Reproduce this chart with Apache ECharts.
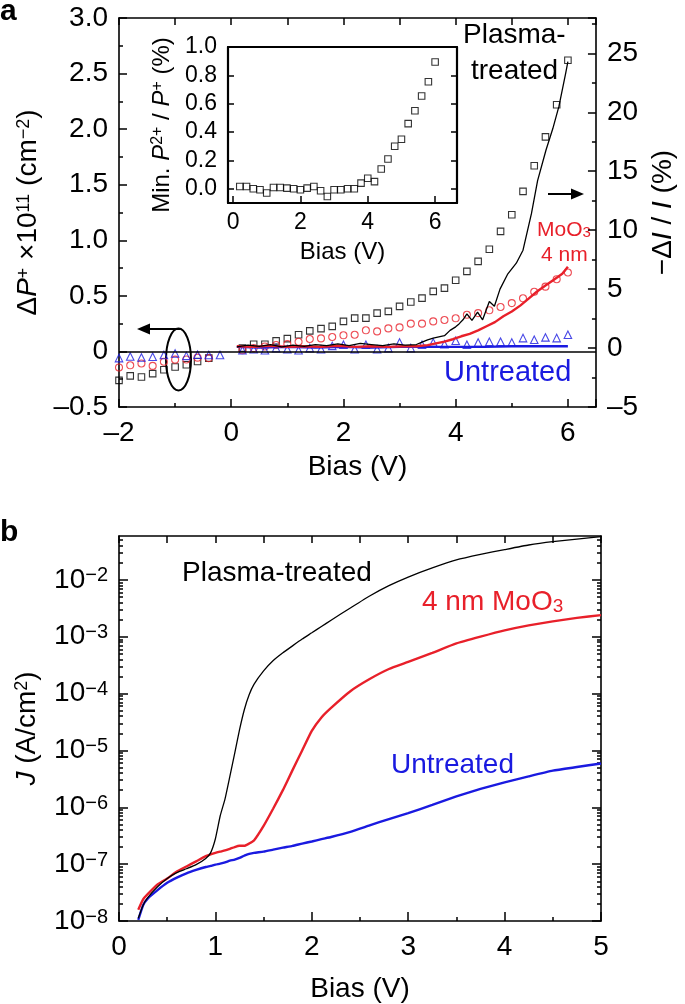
<!DOCTYPE html>
<html>
<head>
<meta charset="utf-8">
<script src="https://cdn.jsdelivr.net/npm/echarts@6.0.0/dist/echarts.min.js"></script>
<style>
  html, body { margin: 0; padding: 0; background: #fff; }
  #chart { width: 685px; height: 1004px; }
</style>
</head>
<body>
<div id="chart"></div>
<script>
const FONT = 'Liberation Sans, Arial, Helvetica, sans-serif'
const RED = '#e8202a'
const BLUE = '#1a1ae0'

// panel a, markers (left axis, dP+ x1e11 cm^-2)
const aBias = [-2.0, -1.8, -1.6, -1.4, -1.2, -1.0, -0.8, -0.6, -0.4, -0.2,
  0.2, 0.4, 0.6, 0.8, 1.0, 1.2, 1.4, 1.6, 1.8, 2.0, 2.2, 2.4, 2.6, 2.8, 3.0,
  3.2, 3.4, 3.6, 3.8, 4.0, 4.2, 4.4, 4.6, 4.8, 5.0, 5.2, 5.4, 5.6, 5.8, 6.0]
const plasmaDP = [-0.26, -0.22, -0.23, -0.20, -0.165, -0.14, -0.12, -0.09, -0.06, null,
  0.03, 0.065, 0.065, 0.095, 0.115, 0.15, 0.185, 0.205, 0.225, 0.27, 0.30, 0.30, 0.345, 0.36, 0.405,
  0.445, 0.48, 0.54, 0.57, 0.64, 0.72, 0.81, 0.92, 1.08, 1.23, 1.44, 1.67, 1.93, 2.22, 2.62]
const moo3DP = [-0.144, -0.125, -0.108, -0.13, -0.093, -0.074, -0.072, -0.056, -0.06, null,
  0.01, 0.03, 0.045, 0.058, 0.067, 0.087, 0.112, 0.117, 0.13, 0.145, 0.15, 0.19, 0.18, 0.207, 0.216,
  0.25, 0.25, 0.27, 0.283, 0.298, 0.33, 0.345, 0.37, 0.40, 0.435, 0.478, 0.537, 0.583, 0.65, 0.71]
const untreatedDP = [-0.06, -0.045, -0.054, -0.048, -0.032, -0.018, -0.04, -0.03, -0.032, -0.032,
  0.01, 0.02, 0.01, 0.03, 0.02, 0.01, 0.03, 0.02, 0.05, 0.06, 0.02, 0.06, 0.02, 0.03, 0.08,
  0.03, 0.06, 0.08, 0.065, 0.096, 0.06, 0.08, 0.087, 0.087, 0.081, 0.12, 0.105, 0.126, 0.12, 0.15]

// panel a, lines (right axis, -dI/I %)
const plasmaLineV = [0.1, 0.3, 0.5, 0.7, 0.9, 1.1, 1.3, 1.5, 1.7, 1.9, 2.1, 2.3, 2.5, 2.7, 2.9, 3.1, 3.3,
  3.4, 3.5, 3.6, 3.7, 3.8, 3.9, 4.0, 4.06, 4.13, 4.2, 4.29, 4.39, 4.48, 4.6, 4.69, 4.79, 4.93,
  5.08, 5.2, 5.35, 5.46, 5.61, 5.73, 5.84, 5.96, 6.0]
const plasmaLineI = [0.1, 0.25, 0.15, 0.3, 0.1, 0.25, 0.15, 0.3, 0.2, 0.35, 0.2, 0.4, 0.3, 0.2, 0.35, 0.25, 0.3,
  0.5, 0.7, 0.85, 0.95, 1.05, 1.5, 1.8, 2.05, 2.4, 2.9, 2.35, 3.05, 2.4, 3.95, 3.55, 5.0, 6.3,
  7.2, 8.3, 11.4, 14.2, 16.8, 18.6, 20.5, 23.3, 24.3]
const moo3LineV = [0.1, 0.4, 0.7, 1.0, 1.3, 1.6, 1.9, 2.2, 2.5, 2.8, 3.1, 3.3, 3.5, 3.65, 3.8, 3.95,
  4.1, 4.25, 4.4, 4.55, 4.7, 4.85, 5.0, 5.15, 5.3, 5.45, 5.6, 5.75, 5.9, 6.0]
const moo3LineI = [0.15, 0.1, 0.2, 0.1, 0.15, 0.1, 0.2, 0.1, 0.15, 0.1, 0.15, 0.15, 0.25, 0.4, 0.55, 0.75,
  1.0, 1.2, 1.5, 1.85, 2.2, 2.7, 3.1, 3.6, 4.2, 4.8, 5.3, 5.8, 6.3, 6.9]
const untreatedLineV = [0.1, 0.5, 1.0, 1.5, 2.0, 2.5, 3.0, 3.5, 4.0, 4.5, 5.0, 5.5, 6.0]
const untreatedLineI = [0.1, 0.05, 0.1, 0.05, 0.1, 0.05, 0.1, 0.1, 0.1, 0.1, 0.15, 0.15, 0.15]

// inset: min P2+/P+ (%)
const insetBias = [0.2, 0.4, 0.6, 0.8, 1.0, 1.2, 1.4, 1.6, 1.8, 2.0, 2.2, 2.4, 2.6, 2.8, 3.0,
  3.2, 3.4, 3.6, 3.8, 4.0, 4.2, 4.4, 4.6, 4.8, 5.0, 5.2, 5.4, 5.6, 5.8, 6.0]
const insetRatio = [0.016, 0.016, 0.0, -0.007, -0.03, 0.009, 0.009, 0.005, 0.0, -0.007, 0.005, 0.016, -0.014, -0.054, -0.007,
  -0.007, 0.0, 0.0, 0.04, 0.075, 0.051, 0.14, 0.21, 0.30, 0.35, 0.46, 0.55, 0.655, 0.755, 0.894]
const insetTicksX = [0, 2, 4, 6]
const insetTicksY = [0, 0.2, 0.4, 0.6, 0.8, 1.0]

// panel b, J (A/cm2)
const bBias = [0.2, 0.25, 0.3, 0.4, 0.5, 0.6, 0.7, 0.8, 0.9, 0.95, 1.0, 1.05, 1.1, 1.15, 1.2, 1.25, 1.3, 1.35,
  1.4, 1.5, 1.6, 1.7, 1.8, 1.9, 2.0, 2.1, 2.2, 2.4, 2.6, 2.8, 3.0, 3.25, 3.5, 3.75, 4.0, 4.25, 4.5, 4.75, 5.0]
const plasmaJ = [1.12e-8, 1.9e-8, 2.6e-8, 4.0e-8, 5.6e-8, 7.1e-8, 8.3e-8, 9.8e-8, 1.26e-7, 1.58e-7,
  2.8e-7, 7.1e-7, 1.41e-6, 3.5e-6, 8.9e-6, 2.3e-5, 5.2e-5, 9.5e-5,
  1.45e-4, 2.5e-4, 3.8e-4, 5.2e-4, 6.9e-4, 9.1e-4, 1.17e-3, 1.51e-3, 1.95e-3, 3.2e-3, 5.2e-3, 7.9e-3, 1.12e-2,
  1.62e-2, 2.24e-2, 2.8e-2, 3.4e-2, 4.1e-2, 4.7e-2, 5.2e-2, 5.75e-2]
const moo3J = [1.58e-8, 2.4e-8, 3.0e-8, 4.4e-8, 5.6e-8, 7.4e-8, 9.1e-8, 1.12e-7, 1.38e-7, 1.48e-7,
  1.58e-7, 1.66e-7, 1.74e-7, 1.86e-7, 2.0e-7, 2.1e-7, 2.1e-7, 2.3e-7,
  2.6e-7, 4.7e-7, 9.5e-7, 2.0e-6, 4.5e-6, 1.0e-5, 2.2e-5, 3.8e-5, 5.6e-5, 1.1e-4, 1.8e-4, 2.7e-4, 3.6e-4,
  5.2e-4, 7.6e-4, 1.0e-3, 1.29e-3, 1.58e-3, 1.86e-3, 2.14e-3, 2.4e-3]
const untreatedJ = [1.05e-8, 1.9e-8, 2.5e-8, 3.5e-8, 4.7e-8, 5.8e-8, 6.9e-8, 7.9e-8, 8.9e-8, 9.3e-8,
  9.8e-8, 1.02e-7, 1.07e-7, 1.15e-7, 1.2e-7, 1.29e-7, 1.41e-7, 1.51e-7,
  1.58e-7, 1.66e-7, 1.8e-7, 1.95e-7, 2.1e-7, 2.3e-7, 2.5e-7, 2.75e-7, 3.0e-7, 3.7e-7, 4.8e-7, 6.2e-7, 7.9e-7,
  1.1e-6, 1.55e-6, 2.1e-6, 2.75e-6, 3.5e-6, 4.4e-6, 5.1e-6, 5.9e-6]
const bDecades = [1e-8, 1e-7, 1e-6, 1e-5, 1e-4, 1e-3, 1e-2]
const bMax = 0.059

const bMinor = []
bDecades.forEach(d => { for (let m = 2; m < 10; m++) if (m * d < bMax) bMinor.push(m * d) })

function pairs(xs, ys) {
  return xs.map((x, i) => [x, ys[i]]).filter(p => p[1] != null)
}
function dash(v) {
  return v < 0 ? '\u2013' + Math.abs(v) : String(v)
}

const lineK = { color: '#000', width: 1.6 }
const tickK = { color: '#000', width: 1.5 }
const supRich = {
  i: { fontStyle: 'italic', fontSize: 28, fontFamily: FONT },
  sup: { fontSize: 18, lineHeight: 14, verticalAlign: 'top', fontFamily: FONT },
}

function axisBase(extra) {
  return Object.assign({
    type: 'value',
    splitLine: { show: false },
    axisLine: { show: true, onZero: false, lineStyle: lineK },
    axisTick: { show: true, inside: true, length: 8, lineStyle: tickK },
    axisLabel: { show: false, color: '#000', fontSize: 28, fontFamily: FONT },
  }, extra)
}

const chart = echarts.init(document.getElementById('chart'), null, { renderer: 'canvas' })

const option = {
  animation: false,
  textStyle: { fontFamily: FONT, color: '#000' },
  grid: [
    { left: 119, top: 18, width: 484, height: 389 },
    { left: 228, top: 47, width: 229, height: 156 },
    { left: 119, top: 536, width: 482, height: 387 },
  ],
  xAxis: [
    axisBase({
      gridIndex: 0, position: 'bottom', min: -2, max: 6.5, interval: 2,
      axisLabel: { show: true, color: '#000', fontSize: 28, fontFamily: FONT, margin: 12,
        formatter: v => (v % 2 === 0 ? dash(v) : '') },
      name: 'Bias (V)', nameLocation: 'middle', nameGap: 46,
      nameTextStyle: { fontSize: 28, color: '#000', fontFamily: FONT },
    }),
    axisBase({
      gridIndex: 0, position: 'bottom', min: -2, max: 6.5, interval: 1,
      axisLine: { show: false, onZero: false }, axisTick: { show: true, inside: true, length: 4, lineStyle: tickK },
    }),
    axisBase({
      gridIndex: 0, position: 'top', min: -2, max: 6.5, interval: 1,
      axisTick: { show: true, inside: true, length: 7, lineStyle: tickK },
    }),
    axisBase({
      gridIndex: 1, position: 'bottom', min: -0.15, max: 6.65,
      axisLine: { show: true, onZero: false, lineStyle: { color: '#000', width: 2.2 } },
      axisTick: { show: true, inside: true, length: 7, lineStyle: tickK, customValues: insetTicksX },
      axisLabel: { show: true, color: '#000', fontSize: 23, fontFamily: FONT, margin: 8, customValues: insetTicksX },
      name: 'Bias (V)', nameLocation: 'middle', nameGap: 37,
      nameTextStyle: { fontSize: 24, color: '#000', fontFamily: FONT },
    }),
    axisBase({
      gridIndex: 1, position: 'top', min: -0.15, max: 6.65,
      axisLine: { show: true, onZero: false, lineStyle: { color: '#000', width: 2.2 } },
      axisTick: { show: false },
    }),
    axisBase({
      gridIndex: 2, position: 'bottom', min: 0, max: 5, interval: 1,
      axisTick: { show: true, inside: true, length: 9, lineStyle: tickK },
      minorTick: { show: true, splitNumber: 2, length: 4, lineStyle: tickK },
      axisLabel: { show: true, color: '#000', fontSize: 28, fontFamily: FONT, margin: 12 },
      name: 'Bias (V)', nameLocation: 'middle', nameGap: 54,
      nameTextStyle: { fontSize: 28, color: '#000', fontFamily: FONT },
    }),
    axisBase({
      gridIndex: 2, position: 'top', min: 0, max: 5, interval: 0.5,
      axisTick: { show: true, inside: true, length: 7, lineStyle: tickK },
    }),
  ],
  yAxis: [
    axisBase({
      gridIndex: 0, position: 'left', min: -0.5, max: 3, interval: 0.5,
      minorTick: { show: true, splitNumber: 2, length: 4, lineStyle: tickK },
      axisLabel: { show: true, color: '#000', fontSize: 28, fontFamily: FONT, margin: 11,
        formatter: v => (v === 0 ? '0' : (v < 0 ? '\u2013' : '') + Math.abs(v).toFixed(1)) },
      name: '\u0394{i|P}{sup|+} \u00d710{sup|11} (cm{sup|\u22122})', nameLocation: 'middle', nameGap: 72,
      nameTextStyle: { fontSize: 28, color: '#000', fontFamily: FONT, rich: supRich },
    }),
    axisBase({
      gridIndex: 0, position: 'right', min: -5, max: 28, interval: 5,
      axisLabel: { show: true, color: '#000', fontSize: 28, fontFamily: FONT, margin: 11,
        formatter: v => (v % 5 === 0 ? dash(v) : '') },
      name: '\u2212\u0394{i|I} / {i|I} (%)', nameLocation: 'middle', nameGap: 52,
      nameTextStyle: { fontSize: 28, color: '#000', fontFamily: FONT, rich: supRich },
    }),
    axisBase({
      gridIndex: 0, position: 'right', min: -5, max: 28, interval: 2.5,
      axisLine: { show: false, onZero: false }, axisTick: { show: true, inside: true, length: 4, lineStyle: tickK },
    }),
    axisBase({
      gridIndex: 1, position: 'left', min: -0.1, max: 1.0,
      axisLine: { show: true, onZero: false, lineStyle: { color: '#000', width: 2.2 } },
      axisTick: { show: true, inside: true, length: 6, lineStyle: tickK, customValues: insetTicksY },
      axisLabel: { show: true, color: '#000', fontSize: 23, fontFamily: FONT, margin: 11,
        customValues: insetTicksY, formatter: v => v.toFixed(1) },
      name: 'Min. {i|P}{sup|2+} / {i|P}{sup|+} (%)', nameLocation: 'middle', nameGap: 54,
      nameTextStyle: { fontSize: 24, color: '#000', fontFamily: FONT, rich: {
        i: { fontStyle: 'italic', fontSize: 24, fontFamily: FONT },
        sup: { fontSize: 16, lineHeight: 12, verticalAlign: 'top', fontFamily: FONT },
      } },
    }),
    axisBase({
      gridIndex: 1, position: 'right', min: -0.1, max: 1.0,
      axisLine: { show: true, onZero: false, lineStyle: { color: '#000', width: 2.2 } },
      axisTick: { show: true, inside: true, length: 6, lineStyle: tickK, customValues: insetTicksY },
    }),
    axisBase({
      type: 'log', gridIndex: 2, position: 'left', min: bDecades[0], max: bMax,
      axisTick: { show: true, inside: true, length: 9, lineStyle: tickK, customValues: bDecades },
      axisLabel: { show: true, color: '#000', fontSize: 28, fontFamily: FONT, margin: 11,
        customValues: bDecades,
        formatter: v => '10{sup|\u2212' + Math.round(-Math.log10(v)) + '}',
        rich: { sup: { fontSize: 20, lineHeight: 14, verticalAlign: 'top', fontFamily: FONT } } },
      name: '{i|J} (A/cm{sup|2})', nameLocation: 'middle', nameGap: 78,
      nameTextStyle: { fontSize: 28, color: '#000', fontFamily: FONT, rich: supRich },
    }),
    axisBase({
      type: 'log', gridIndex: 2, position: 'left', min: bDecades[0], max: bMax,
      axisLine: { show: false, onZero: false },
      axisTick: { show: true, inside: true, length: 4, lineStyle: tickK, customValues: bMinor },
    }),
    axisBase({
      type: 'log', gridIndex: 2, position: 'right', min: bDecades[0], max: bMax,
      axisTick: { show: true, inside: true, length: 9, lineStyle: tickK, customValues: bDecades },
    }),
    axisBase({
      type: 'log', gridIndex: 2, position: 'right', min: bDecades[0], max: bMax,
      axisLine: { show: false, onZero: false },
      axisTick: { show: true, inside: true, length: 4, lineStyle: tickK, customValues: bMinor },
    }),
  ],
  series: [
    {
      type: 'scatter', xAxisIndex: 0, yAxisIndex: 0, data: pairs(aBias, plasmaDP),
      symbol: 'rect', symbolSize: 6.5,
      itemStyle: { color: 'rgba(0,0,0,0)', borderColor: '#000', borderWidth: 1.1 },
      markLine: {
        silent: true, symbol: 'none', label: { show: false },
        lineStyle: { color: '#000', width: 1.5, type: 'solid' },
        data: [{ yAxis: 0 }],
      },
    },
    {
      type: 'scatter', xAxisIndex: 0, yAxisIndex: 0, data: pairs(aBias, moo3DP),
      symbol: 'circle', symbolSize: 7,
      itemStyle: { color: 'rgba(0,0,0,0)', borderColor: RED, borderWidth: 1.1 },
    },
    {
      type: 'scatter', xAxisIndex: 0, yAxisIndex: 0, data: pairs(aBias, untreatedDP),
      symbol: 'triangle', symbolSize: 7.5,
      itemStyle: { color: 'rgba(0,0,0,0)', borderColor: BLUE, borderWidth: 1.1 },
    },
    {
      type: 'line', xAxisIndex: 0, yAxisIndex: 1, data: pairs(untreatedLineV, untreatedLineI),
      showSymbol: false, lineStyle: { color: BLUE, width: 2.4 },
    },
    {
      type: 'line', xAxisIndex: 0, yAxisIndex: 1, data: pairs(moo3LineV, moo3LineI),
      showSymbol: false, lineStyle: { color: RED, width: 2.4 },
    },
    {
      type: 'line', xAxisIndex: 0, yAxisIndex: 1, data: pairs(plasmaLineV, plasmaLineI),
      showSymbol: false, lineStyle: { color: '#000', width: 1.3 },
    },
    {
      type: 'scatter', xAxisIndex: 3, yAxisIndex: 3, data: pairs(insetBias, insetRatio),
      symbol: 'rect', symbolSize: 6.5,
      itemStyle: { color: 'rgba(0,0,0,0)', borderColor: '#000', borderWidth: 1.1 },
    },
    {
      type: 'line', xAxisIndex: 5, yAxisIndex: 5, data: pairs(bBias, untreatedJ), smooth: 0.15,
      showSymbol: false, lineStyle: { color: BLUE, width: 2.4 },
    },
    {
      type: 'line', xAxisIndex: 5, yAxisIndex: 5, data: pairs(bBias, moo3J), smooth: 0.15,
      showSymbol: false, lineStyle: { color: RED, width: 2.4 },
    },
    {
      type: 'line', xAxisIndex: 5, yAxisIndex: 5, data: pairs(bBias, plasmaJ), smooth: 0.15,
      showSymbol: false, lineStyle: { color: '#000', width: 1.3 },
    },
  ],
  graphic: [
    { type: 'text', x: 0, y: 12, style: { text: 'a', fontSize: 30, fontWeight: 'bold', fontFamily: FONT, fill: '#000', textVerticalAlign: 'middle' } },
    { type: 'text', x: 0, y: 533, style: { text: 'b', fontSize: 30, fontWeight: 'bold', fontFamily: FONT, fill: '#000', textVerticalAlign: 'middle' } },
    { type: 'text', x: 463, y: 35, style: { text: 'Plasma-', fontSize: 28, fontFamily: FONT, fill: '#000', textVerticalAlign: 'middle' } },
    { type: 'text', x: 471, y: 71, style: { text: 'treated', fontSize: 28, fontFamily: FONT, fill: '#000', textVerticalAlign: 'middle' } },
    { type: 'text', x: 537, y: 230, style: { text: 'MoO{sub|3}', fontSize: 21, fontFamily: FONT, fill: RED, textVerticalAlign: 'middle',
      rich: { sub: { fontSize: 15, lineHeight: 10, verticalAlign: 'bottom', fill: RED, fontFamily: FONT } } } },
    { type: 'text', x: 541, y: 255, style: { text: '4 nm', fontSize: 21, fontFamily: FONT, fill: RED, textVerticalAlign: 'middle' } },
    { type: 'text', x: 444, y: 373, style: { text: 'Untreated', fontSize: 29, fontFamily: FONT, fill: BLUE, textVerticalAlign: 'middle' } },
    { type: 'text', x: 182, y: 573, style: { text: 'Plasma-treated', fontSize: 28, fontFamily: FONT, fill: '#000', textVerticalAlign: 'middle' } },
    { type: 'text', x: 422, y: 602, style: { text: '4 nm MoO{sub|3}', fontSize: 28, fontFamily: FONT, fill: RED, textVerticalAlign: 'middle',
      rich: { sub: { fontSize: 19, lineHeight: 12, verticalAlign: 'bottom', fill: RED, fontFamily: FONT } } } },
    { type: 'text', x: 391, y: 765, style: { text: 'Untreated', fontSize: 28, fontFamily: FONT, fill: BLUE, textVerticalAlign: 'middle' } },
    { type: 'line', shape: { x1: 548, y1: 194, x2: 574, y2: 194 }, style: { stroke: '#000', lineWidth: 2 } },
    { type: 'polygon', shape: { points: [[584, 194], [571, 188.5], [571, 199.5]] }, style: { fill: '#000' } },
    { type: 'line', shape: { x1: 147, y1: 329, x2: 180, y2: 329 }, style: { stroke: '#000', lineWidth: 2 } },
    { type: 'polygon', shape: { points: [[137, 329], [150, 323.5], [150, 334.5]] }, style: { fill: '#000' } },
    { type: 'ellipse', shape: { cx: 178.5, cy: 359.5, rx: 12.5, ry: 31 }, style: { fill: 'none', stroke: '#000', lineWidth: 2 } },
  ],
}

chart.setOption(option)
window.addEventListener('resize', () => chart.resize())
</script>
</body>
</html>
